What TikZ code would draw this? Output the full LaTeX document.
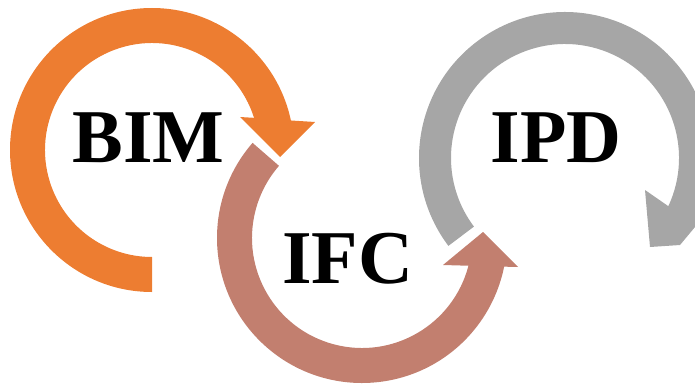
\documentclass[tikz,border=0pt]{standalone}
\usepackage{fontspec}
\setmainfont{Liberation Serif}
\usepackage{tikz}
\definecolor{bimorange}{HTML}{ED7D31}
\definecolor{ifcbrown}{HTML}{C27F6F}
\definecolor{ipdgray}{HTML}{A6A6A6}

\begin{document}
\begin{tikzpicture}[x=1pt,y=1pt, every node/.style={inner sep=0pt,anchor=base,font=\bfseries\fontsize{76}{76}\selectfont}]
	\useasboundingbox (0,0) rectangle (695,389);
	% BIM arrow
	\fill[bimorange, shift={(152,239)}] (270:142) arc[start angle=270,end angle=12,radius=142] -- (163,28) -- (128,-7) -- (88,33) -- (17.5:107) arc[start angle=17.5,end angle=270,radius=107] -- cycle;
	% IFC arrow
	\fill[ifcbrown, shift={(362,151)}] (139:145) arc[start angle=139,end angle=348.6,radius=145] -- (156,-29) -- (121,6) -- (81,-27) -- (345.4:110) arc[start angle=345.4,end angle=139,radius=110] -- cycle;
	% IPD arrow
	\fill[ipdgray, shift={(565,231)}] (217:146) arc[start angle=217,end angle=-18,radius=146] -- (140,-57) -- (115,-87) -- (85,-89) -- (80,-32) -- (-25:114) arc[start angle=-25,end angle=217,radius=114] -- cycle;
	\node (bim) at (148.5,227) {BIM};
	\node (ifc) at (347.5,106) {IFC};
	\node (ipd) at (556,227) {IPD};
\end{tikzpicture}
\end{document}
